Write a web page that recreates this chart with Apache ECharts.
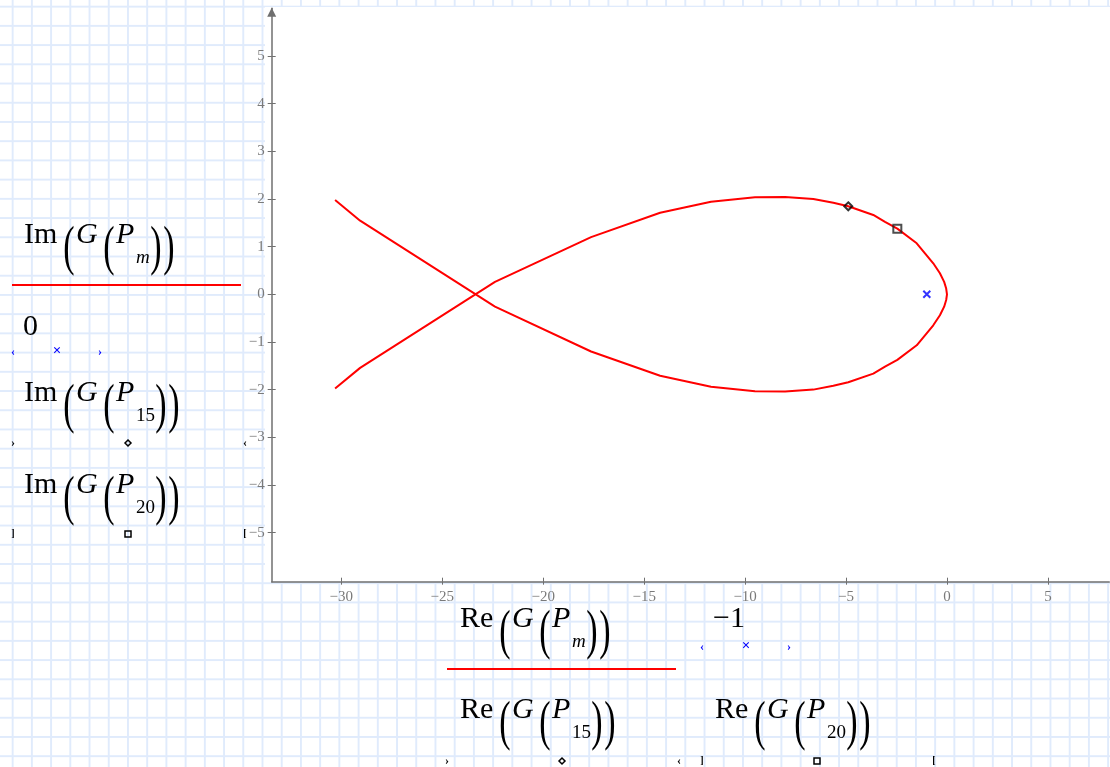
<!DOCTYPE html>
<html>
<head>
<meta charset="utf-8">
<script src="https://cdn.jsdelivr.net/npm/echarts@6/dist/echarts.min.js"></script>
<style>
	body {
		margin: 0;
		background-color: #fff;
		background-image: linear-gradient(90deg, #e0ebfc 2px, transparent 2px), linear-gradient(180deg, #e0ebfc 2px, transparent 2px);
		background-size: 19.22px 19.22px;
		background-position: 11.7px 5.7px;
	}
	#main { width: 1110px; height: 767px; }
</style>
</head>
<body>
<div id="main"></div>
<script>
// Re / Im of G(P_m)
const reG = [-30.31, -29.07, -22.39, -17.63, -14.21, -11.69, -9.51, -8.02, -6.62, -5.63, -4.89, -3.65, -3.07, -2.46, -1.50, -1.09, -0.68, -0.35, -0.14, -0.04, 0,
	-0.04, -0.14, -0.35, -0.68, -1.09, -1.50, -2.46, -3.07, -3.65, -4.89, -5.63, -6.62, -8.02, -9.51, -11.69, -14.21, -17.63, -22.39, -29.07, -30.31];
const imG = [1.977, 1.544, -0.26, -1.20, -1.71, -1.94, -2.035, -2.041, -2.00, -1.92, -1.846, -1.664, -1.52, -1.377, -1.07, -0.86, -0.65, -0.44, -0.26, -0.12, 0,
	0.12, 0.26, 0.44, 0.65, 0.86, 1.07, 1.377, 1.52, 1.664, 1.846, 1.92, 2.00, 2.041, 2.035, 1.94, 1.71, 1.20, 0.26, -1.544, -1.977];
const p15 = [-4.89, 1.846];
const p20 = [-2.46, 1.377];
const critical = [-1, 0];
const xTicks = [-30, -25, -20, -15, -10, -5, 0, 5];
const yTicks = [-5, -4, -3, -2, -1, 0, 1, 2, 3, 4, 5];

const SERIF = '"Liberation Serif", "Times New Roman", serif';
const axisGrey = '#6f6f6f';

function txt(s, x, base, size, opts) {
	opts = opts || {};
	return {
		type: 'text', x: x, y: base - 0.32 * size, z: 10,
		style: {
			text: s,
			font: (opts.it ? 'italic ' : '') + (opts.bold ? 'bold ' : '') + size + 'px ' + SERIF,
			fill: opts.fill || '#000',
			align: opts.align || 'left',
			verticalAlign: 'middle'
		}
	};
}
function paren(s, x, base) {
	return {
		type: 'text', x: x, y: base + 5, z: 10, scaleY: 1.6,
		style: { text: s, font: '34px ' + SERIF, fill: '#000', align: 'center', verticalAlign: 'middle' }
	};
}
function expr(fn, sub, x0, b) {
	let w = sub.length > 1 ? 5 : 0;
	return [
		txt(fn, x0, b, 30),
		paren('(', x0 + 45, b),
		txt('G', x0 + 52, b, 30, {it: 1}),
		paren('(', x0 + 85, b),
		txt('P', x0 + 92, b, 30, {it: 1}),
		txt(sub, x0 + 112, b + 19, 19, {it: sub === 'm'}),
		paren(')', x0 + 132 + w, b),
		paren(')', x0 + 145 + w, b)
	];
}
function redLine(x1, x2, y) {
	return {type: 'line', z: 10, shape: {x1: x1, y1: y, x2: x2, y2: y}, style: {stroke: '#ff0000', lineWidth: 2}};
}
function blueRow(x, y) {
	return [
		txt('‹', x, y + 4, 12, {bold: 1, fill: '#0000ff', align: 'center'}),
		txt('×', x + 44, y + 4, 15, {bold: 1, fill: '#0000ff', align: 'center'}),
		txt('›', x + 87, y + 4, 12, {bold: 1, fill: '#0000ff', align: 'center'})
	];
}
function diamondRow(x, y) {
	return [
		txt('›', x, y + 4, 12, {bold: 1, align: 'center'}),
		{type: 'polygon', z: 10, shape: {points: [[x + 115, y - 3], [x + 118, y], [x + 115, y + 3], [x + 112, y]]}, style: {fill: 'none', stroke: '#000', lineWidth: 1.5}},
		txt('‹', x + 232, y + 4, 12, {bold: 1, align: 'center'})
	];
}
function squareRow(x, y) {
	return [
		txt(']', x, y + 3, 10, {bold: 1, align: 'center'}),
		{type: 'rect', z: 10, shape: {x: x + 112, y: y - 3, width: 6, height: 6}, style: {fill: 'none', stroke: '#000', lineWidth: 1.5}},
		txt('[', x + 232, y + 3, 10, {bold: 1, align: 'center'})
	];
}

let chart = echarts.init(document.getElementById('main'));

let curve = reG.map((x, i) => [x, imG[i]]);
let fmt = v => String(v).replace('-', '−');
let labelStyle = {color: '#7a7a7a', fontFamily: SERIF, fontSize: 15, formatter: fmt};

let graphics = [
	{type: 'rect', z: -1, shape: {x: 265, y: 7, width: 845, height: 575}, style: {fill: '#fff'}}
]
	.concat(expr('Im', 'm', 24, 245))
	.concat([redLine(12, 241, 285), txt('0', 23, 337, 30)])
	.concat(blueRow(13, 352))
	.concat(expr('Im', '15', 24, 403))
	.concat(diamondRow(13, 443))
	.concat(expr('Im', '20', 24, 495))
	.concat(squareRow(13, 534))
	.concat(expr('Re', 'm', 460, 629))
	.concat([redLine(447, 676, 669), txt('−1', 713, 629, 30)])
	.concat(blueRow(702, 647))
	.concat(expr('Re', '15', 460, 720))
	.concat(expr('Re', '20', 715, 720))
	.concat(diamondRow(447, 761))
	.concat(squareRow(702, 761));

option = {
	animation: false,
	grid: {left: 271.7, right: 0.7, top: 8.3, bottom: 185.3},
	xAxis: [{
		type: 'value', min: -33.45, max: 8.04, position: 'bottom',
		axisLine: {show: true, onZero: false, lineStyle: {color: axisGrey, width: 1.5}},
		axisTick: {show: true, length: 3, customValues: xTicks, lineStyle: {color: axisGrey}},
		axisLabel: Object.assign({margin: 8, customValues: xTicks}, labelStyle),
		splitLine: {show: false}
	}, {
		type: 'value', min: -33.45, max: 8.04, position: 'bottom',
		axisLine: {show: false, onZero: false},
		axisTick: {show: true, inside: true, length: 4, customValues: xTicks, lineStyle: {color: axisGrey}},
		axisLabel: {show: false},
		splitLine: {show: false}
	}],
	yAxis: [{
		type: 'value', min: -6.03, max: 6.0, position: 'left',
		axisLine: {show: true, onZero: false, symbol: ['none', 'triangle'], symbolSize: [9, 9], symbolOffset: [0, -4], lineStyle: {color: axisGrey, width: 1.5}},
		axisTick: {show: true, length: 4, customValues: yTicks, lineStyle: {color: axisGrey}},
		axisLabel: Object.assign({margin: 7, customValues: yTicks}, labelStyle),
		splitLine: {show: false}
	}, {
		type: 'value', min: -6.03, max: 6.0, position: 'left',
		axisLine: {show: false, onZero: false},
		axisTick: {show: true, inside: true, length: 4, customValues: yTicks, lineStyle: {color: axisGrey}},
		axisLabel: {show: false},
		splitLine: {show: false}
	}],
	graphic: graphics,
	series: [{
		name: 'Im(G(P_m))',
		type: 'line',
		data: curve,
		symbol: 'none',
		lineStyle: {color: '#ff0000', width: 2},
		z: 3
	}, {
		name: 'critical',
		type: 'scatter',
		data: [critical],
		symbol: 'path://M0,0L10,10M10,0L0,10',
		symbolSize: 7,
		itemStyle: {color: 'rgba(0,0,0,0)', borderColor: '#0000ff', borderWidth: 2},
		z: 4
	}, {
		name: 'P15',
		type: 'scatter',
		data: [p15],
		symbol: 'diamond',
		symbolSize: 8,
		itemStyle: {color: 'rgba(0,0,0,0)', borderColor: '#000', borderWidth: 2},
		z: 5
	}, {
		name: 'P20',
		type: 'scatter',
		data: [p20],
		symbol: 'rect',
		symbolSize: 8,
		itemStyle: {color: 'rgba(0,0,0,0)', borderColor: '#222', borderWidth: 2},
		z: 5
	}]
};

chart.setOption(option);

window.onresize = function() {
	chart.resize();
}
</script>
</body>
</html>
